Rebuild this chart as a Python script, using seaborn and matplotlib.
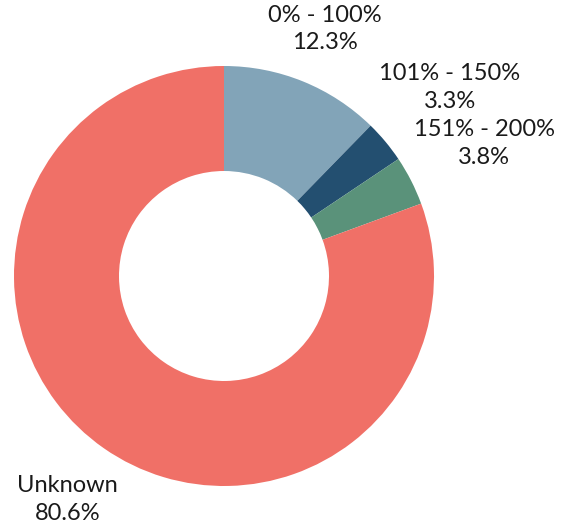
import numpy as np
import matplotlib
matplotlib.use("Agg")
import matplotlib.pyplot as plt
import seaborn as sns

# Share of records by ratio band
categories = ["0% - 100%", "101% - 150%", "151% - 200%", "Unknown"]
shares = [12.3, 3.3, 3.8, 80.6]
colors = ["#82A4B8", "#234F70", "#5A927A", "#F07067"]
label_radius = [1.27, 1.40, 1.39, 1.30]

sns.set_theme(style="white")
plt.rcParams["font.family"] = ["Lato", "DejaVu Sans"]

fig = plt.figure(figsize=(5.70, 5.32), dpi=100)
W, H = 570, 532
cx, cy, R = 224, 276, 210
ax = fig.add_axes([(cx - R) / W, (H - cy - R) / H, 2 * R / W, 2 * R / H])

wedges, _ = ax.pie(
    shares,
    colors=colors,
    startangle=90,
    counterclock=False,
    radius=1.0,
    wedgeprops=dict(width=0.5, linewidth=0),
)
ax.set_xlim(-1, 1)
ax.set_ylim(-1, 1)
ax.set_aspect("equal")
ax.axis("off")

# Labels placed along each slice's mid-angle
for w, cat, val, rr in zip(wedges, categories, shares, label_radius):
    mid = np.deg2rad((w.theta1 + w.theta2) / 2)
    ax.text(rr * np.cos(mid), rr * np.sin(mid), f"{cat}\n{val:.1f}%",
            ha="center", va="center", fontsize=17, color="#1a1a1a",
            linespacing=1.4, clip_on=False)

fig.savefig("out.png", dpi=100)
